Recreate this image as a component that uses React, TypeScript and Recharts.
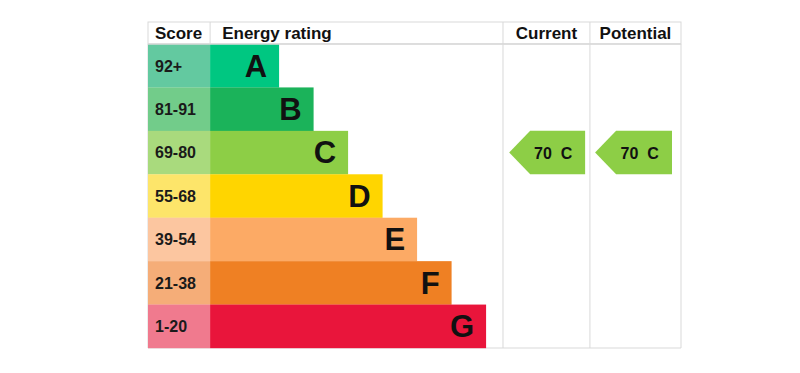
import { BarChart, Bar, XAxis, YAxis, ReferenceLine, ReferenceArea, LabelList, Cell } from 'recharts'

document.body.style.margin = '0'

const FONT = '"Liberation Sans", Arial, sans-serif'
const LINE = '#d9d9d9'

// EPC bands, top to bottom
const bands = ['A', 'B', 'C', 'D', 'E', 'F', 'G']
const scoreRanges = ['92+', '81-91', '69-80', '55-68', '39-54', '21-38', '1-20']
const barLengths = [2, 3, 4, 5, 6, 7, 8]
const scoreColors = ['#63c9a0', '#72cc8a', '#a9da7d', '#fde56a', '#fcc6a0', '#f5ad78', '#f07a8e']
const bandColors = ['#00c781', '#1bb35a', '#8dce46', '#ffd500', '#fcaa65', '#ef8023', '#e9153b']

const currentRating = { score: 70, band: 'C' }
const potentialRating = { score: 70, band: 'C' }

// table columns in axis units (1 unit = one band step)
const SCORE_COL = 1.8
const RATING_END = 10.29
const CURRENT_END = 12.81
const TABLE_END = 15.45
const currentArrow = [10.47, 12.67]
const potentialArrow = [12.96, 15.19]

const headerLabels = [
  { at: 0.2, text: 'Score', anchor: 'start' },
  { at: 2.15, text: 'Energy rating', anchor: 'start' },
  { at: 11.55, text: 'Current', anchor: 'middle' },
  { at: 14.13, text: 'Potential', anchor: 'middle' },
]
const headerLines = [SCORE_COL, RATING_END, CURRENT_END]

const data = bands.map((band, i) => ({
  band,
  range: scoreRanges[i],
  score: SCORE_COL,
  rating: barLengths[i],
}))

function HeaderTick({ x, y, payload }: any) {
  const v = payload.value
  if (headerLines.includes(v)) {
    return <line x1={x} x2={x} y1={y} y2={y - 22} stroke={LINE} />
  }
  const h = headerLabels.find(l => l.at === v)
  if (!h) return null
  return (
    <text x={x} y={y - 5} textAnchor={h.anchor} fontFamily={FONT} fontSize={17} fontWeight="bold" fill="#111">
      {h.text}
    </text>
  )
}

function HeaderFrame({ viewBox }: any) {
  if (!viewBox) return null
  const { x, y, width, height } = viewBox
  return <rect x={x} y={y} width={width} height={height} fill="none" stroke={LINE} />
}

// bars get floored to whole pixels, so stretch a little to close the seams between rows
function RowBar({ x, y, width, height, fill }: any) {
  return <rect x={x} y={y} width={width} height={height + 0.6} fill={fill} />
}

function ScoreLabel({ x, y, height, value }: any) {
  return (
    <text x={x + 7} y={y + height / 2 + 6} fontFamily={FONT} fontSize={16} fontWeight="bold" fill="#1a1a1a">
      {value}
    </text>
  )
}

function BandLetter({ x, y, width, height, value }: any) {
  return (
    <text x={x + width - 12} y={y + height / 2 + 11} textAnchor="end" fontFamily={FONT} fontSize={31} fontWeight="bold" fill="#111">
      {value}
    </text>
  )
}

function arrowShape(rating: { score: number; band: string }) {
  const color = bandColors[bands.indexOf(rating.band)]
  return (p: any) => {
    const { x, y, width, height } = p
    const tip = 21
    const pts = [
      [x, y + height / 2],
      [x + tip, y],
      [x + width, y],
      [x + width, y + height],
      [x + tip, y + height],
    ].map(q => q.join(',')).join(' ')
    return (
      <g>
        <polygon points={pts} fill={color} />
        <text
          x={x + width * 0.58}
          y={y + height / 2 + 6}
          textAnchor="middle"
          fontFamily={FONT}
          fontSize={16}
          fontWeight="bold"
          fill="#111"
          style={{ whiteSpace: 'pre' }}
        >
          {`${rating.score}  ${rating.band}`}
        </text>
      </g>
    )
  }
}

export default function App() {
  return (
    <BarChart
      width={800}
      height={373}
      data={data}
      layout="vertical"
      margin={{ top: 22, right: 119, bottom: 25, left: 148 }}
      barCategoryGap={0}
    >
      <XAxis
        type="number"
        orientation="top"
        domain={[0, TABLE_END]}
        ticks={[...headerLines, ...headerLabels.map(h => h.at)]}
        tick={HeaderTick}
        interval={0}
        tickLine={false}
        tickSize={0}
        tickMargin={0}
        height={22}
        axisLine={{ stroke: LINE }}
        label={<HeaderFrame />}
        allowDataOverflow
      />
      <YAxis type="category" dataKey="band" hide />
      <ReferenceArea x1={0} x2={TABLE_END} fill="none" fillOpacity={0} stroke={LINE} strokeOpacity={1} ifOverflow="visible" />
      <ReferenceLine x={RATING_END} stroke={LINE} />
      <ReferenceLine x={CURRENT_END} stroke={LINE} />
      <Bar dataKey="score" stackId="row" shape={RowBar} isAnimationActive={false}>
        {data.map((d, i) => <Cell key={d.band} fill={scoreColors[i]} />)}
        <LabelList dataKey="range" content={ScoreLabel} />
      </Bar>
      <Bar dataKey="rating" stackId="row" shape={RowBar} isAnimationActive={false}>
        {data.map((d, i) => <Cell key={d.band} fill={bandColors[i]} />)}
        <LabelList dataKey="band" content={BandLetter} />
      </Bar>
      <ReferenceArea
        x1={currentArrow[0]}
        x2={currentArrow[1]}
        y1={currentRating.band}
        y2={currentRating.band}
        shape={arrowShape(currentRating)}
      />
      <ReferenceArea
        x1={potentialArrow[0]}
        x2={potentialArrow[1]}
        y1={potentialRating.band}
        y2={potentialRating.band}
        shape={arrowShape(potentialRating)}
      />
    </BarChart>
  )
}
